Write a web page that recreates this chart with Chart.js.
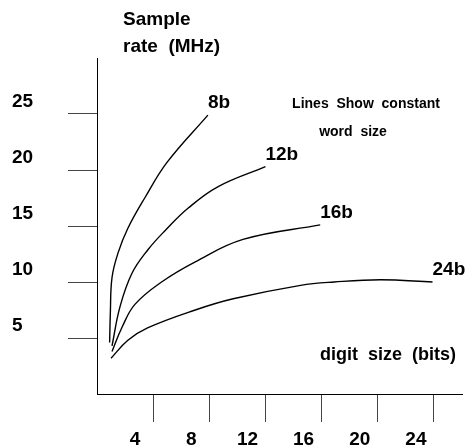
<!DOCTYPE html>
<html>
<head>
<meta charset="utf-8">
<script src="https://cdn.jsdelivr.net/npm/chart.js@4.4.0/dist/chart.umd.min.js"></script>
<style>
  body { margin: 0; background: #fff; }
  canvas { display: block; }
</style>
</head>
<body>
<canvas id="rateChart" width="467" height="448"></canvas>
<script>
// word size lines: digit size (bits) vs sample rate (MHz)
const wordSizes = ["8b", "12b", "16b", "24b"];
const digits8 = [0.9, 0.95, 1.07, 1.5, 2.2, 3.4, 5.0, 7.9];
const rate8 = [4.6, 7.2, 10.4, 12.6, 14.8, 17.5, 20.7, 24.9];
const digits12 = [1.07, 1.64, 2.5, 3.64, 4.86, 6.5, 8.6, 12.0];
const rate12 = [4.3, 7.8, 10.8, 12.9, 14.6, 16.6, 18.5, 20.3];
const digits16 = [1.07, 1.8, 2.7, 4.6, 7.0, 10.4, 15.9];
const rate16 = [3.8, 6.0, 8.0, 10.0, 11.8, 13.8, 15.1];
const digits24 = [1.0, 2.2, 3.6, 7.0, 9.7, 14.5, 16.9, 20.2, 23.9];
const rate24 = [3.2, 4.8, 5.9, 7.5, 8.5, 9.7, 10.0, 10.2, 10.0];
const xTicks = [4, 8, 12, 16, 20, 24];
const yTicks = [5, 10, 15, 20, 25];

const allX = [digits8, digits12, digits16, digits24];
const allY = [rate8, rate12, rate16, rate24];

const datasets = wordSizes.map((name, i) => ({
  label: name,
  data: allX[i].map((x, j) => ({ x: x, y: allY[i][j] })),
  showLine: true,
  borderColor: "#000",
  borderWidth: 1.4,
  pointRadius: 0,
  tension: 0.4
}));

const FONT = "'Liberation Sans', Arial, sans-serif";

// line end labels and free text
const textPlugin = {
  id: "texts",
  afterDraw(chart) {
    const ctx = chart.ctx;
    const xs = chart.scales.x, ys = chart.scales.y;
    ctx.save();
    ctx.fillStyle = "#000";
    ctx.textBaseline = "middle";
    ctx.font = "bold 19px " + FONT;
    ctx.textAlign = "left";
    datasets.forEach(ds => {
      const last = ds.data[ds.data.length - 1];
      ctx.fillText(ds.label, xs.getPixelForValue(last.x), ys.getPixelForValue(last.y) - 12);
    });
    ctx.fillText("Sample", 123, 20);
    ctx.fillText("rate  (MHz)", 123, 47);
    ctx.font = "bold 18px " + FONT;
    ctx.fillText("digit  size  (bits)", 320, 355);
    ctx.font = "bold 14px " + FONT;
    ctx.textAlign = "center";
    ctx.fillText("Lines  Show  constant", 366, 104);
    ctx.fillText("word  size", 353, 132);
    ctx.restore();
  }
};

new Chart(document.getElementById("rateChart"), {
  type: "scatter",
  data: { datasets: datasets },
  plugins: [textPlugin],
  options: {
    responsive: false,
    animation: false,
    layout: { padding: { left: 12, top: 58, right: 5, bottom: 0 } },
    plugins: { legend: { display: false }, tooltip: { enabled: false } },
    scales: {
      x: {
        type: "linear",
        min: 0,
        max: 26,
        afterBuildTicks: s => { s.ticks = xTicks.map(v => ({ value: v })); },
        afterFit: s => { s.height = 54; },
        grid: { drawOnChartArea: false, tickLength: 28, color: "#444", lineWidth: 1 },
        border: { color: "#000", width: 1 },
        ticks: {
          color: "#000",
          padding: 6,
          labelOffset: -18,
          font: { family: FONT, size: 19, weight: "bold" }
        }
      },
      y: {
        type: "linear",
        min: 0,
        max: 30,
        afterBuildTicks: s => { s.ticks = yTicks.map(v => ({ value: v })); },
        afterFit: s => { s.width = 85; },
        grid: { drawOnChartArea: false, tickLength: 29, color: "#444", lineWidth: 1 },
        border: { color: "#000", width: 1 },
        ticks: {
          color: "#000",
          crossAlign: "far",
          labelOffset: -12,
          font: { family: FONT, size: 19, weight: "bold" }
        }
      }
    }
  }
});
</script>
</body>
</html>
